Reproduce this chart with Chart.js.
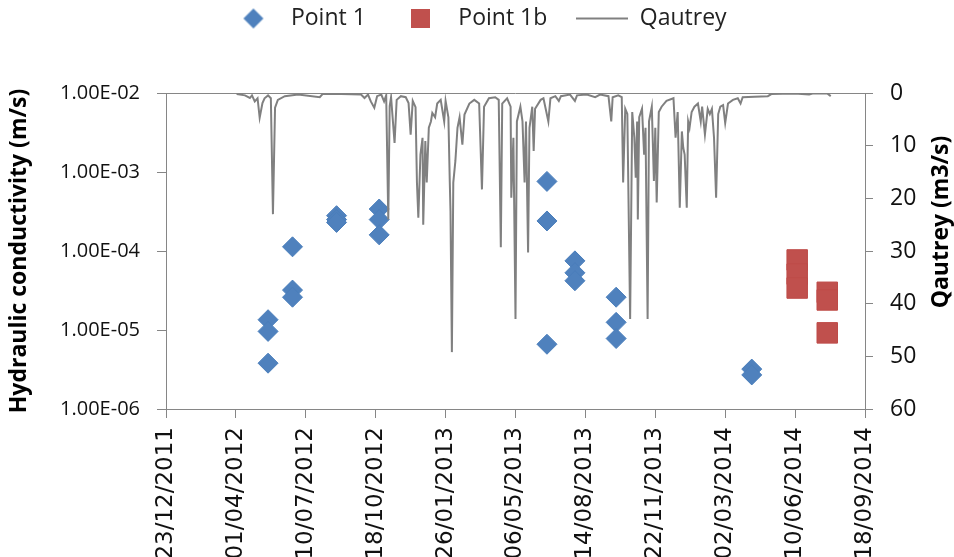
<!DOCTYPE html>
<html>
<head>
<meta charset="utf-8">
<script src="https://cdn.jsdelivr.net/npm/chart.js@4.4.1/dist/chart.umd.min.js"></script>
<style>
  html, body { margin: 0; padding: 0; background: #fff; }
</style>
</head>
<body>
<canvas id="myChart"></canvas>
<script>
// all dates are Excel day serials (40900 = 23/12/2011)
const xTicks = [40900, 41000, 41100, 41200, 41300, 41400, 41500, 41600, 41700, 41800, 41900];
const xTickLabels = ['23/12/2011', '01/04/2012', '10/07/2012', '18/10/2012', '26/01/2013', '06/05/2013',
  '14/08/2013', '22/11/2013', '02/03/2014', '10/06/2014', '18/09/2014'];

const kTicks = [1e-6, 1e-5, 1e-4, 1e-3, 1e-2];
const kTickLabels = ['1.00E-06', '1.00E-05', '1.00E-04', '1.00E-03', '1.00E-02'];
const qTicks = [0, 10, 20, 30, 40, 50, 60];

// Point 1 - hydraulic conductivity (m/s)
const p1Day = [41046, 41046, 41046, 41081, 41081, 41081, 41144, 41144, 41144, 41205, 41205, 41205,
  41445, 41445, 41445, 41485, 41485, 41485, 41544, 41544, 41544, 41738, 41738];
const p1K = [1.35e-5, 9.6e-6, 3.8e-6, 1.13e-4, 3.2e-5, 2.6e-5, 2.8e-4, 2.5e-4, 2.3e-4, 3.4e-4, 2.5e-4, 1.6e-4,
  7.6e-4, 2.4e-4, 6.6e-6, 7.5e-5, 5.3e-5, 4.2e-5, 2.6e-5, 1.25e-5, 7.8e-6, 3.2e-6, 2.7e-6];

// Point 1b
const p1bDay = [41803, 41803, 41803, 41846, 41846, 41846];
const p1bK = [7.7e-5, 5.1e-5, 3.4e-5, 3.0e-5, 2.4e-5, 9.2e-6];

// Qautrey flow (m3/s) (peaks + baseline)
const qDay = [
  41001, 41013, 41020, 41023, 41027, 41031, 41034, 41038, 41041, 41046,
  41050, 41053, 41056, 41060, 41070, 41089, 41120, 41124, 41151, 41179,
  41184, 41189, 41193, 41198, 41202, 41208, 41212, 41215, 41218, 41220,
  41222, 41227, 41230, 41236, 41243, 41247, 41250, 41253, 41257, 41259,
  41261, 41264, 41267, 41268, 41271, 41273, 41276, 41279, 41281, 41285,
  41288, 41293, 41298, 41300, 41304, 41306, 41307, 41309, 41311, 41314,
  41317, 41320, 41324, 41327, 41334, 41341, 41348, 41352, 41355, 41362,
  41371, 41376, 41379, 41381, 41388, 41393, 41394, 41397, 41400, 41402,
  41407, 41410, 41413, 41415, 41418, 41420, 41424, 41426, 41428, 41436,
  41440, 41447, 41450, 41457, 41462, 41465, 41478, 41485, 41488, 41502,
  41514, 41521, 41533, 41537, 41539, 41547, 41552, 41554, 41557, 41560,
  41564, 41567, 41570, 41572, 41574, 41575, 41577, 41581, 41584, 41586,
  41589, 41591, 41595, 41598, 41600, 41602, 41605, 41609, 41616, 41626,
  41629, 41632, 41635, 41638, 41640, 41642, 41645, 41647, 41649, 41652,
  41656, 41661, 41665, 41667, 41671, 41675, 41678, 41681, 41684, 41687,
  41690, 41693, 41697, 41700, 41704, 41711, 41718, 41722, 41725, 41742,
  41761, 41766, 41799, 41820, 41825, 41846, 41851
];
const qFlow = [
  0.2, 0.45, 0.95, 0.45, 1.6, 1.0, 4.7, 1.9, 1.0, 0.45,
  1.0, 23, 2.8, 1.3, 0.6, 0.3, 0.8, 0.2, 0.2, 0.3,
  0.95, 0.3, 1.6, 2.8, 0.6, 0.3, 1.6, 0.45, 24, 2.5,
  0.8, 9.5, 1.3, 0.6, 0.8, 1.9, 7.9, 1.5, 2.7, 17,
  23.7, 11.7, 8.5, 25, 9.1, 17, 6.6, 5.4, 3.8, 4.6,
  2.0, 1.3, 5.4, 1.5, 4.6, 17, 22.4, 49.2, 17, 12.9,
  6.6, 4.6, 9.8, 4.1, 2.0, 1.3, 2.0, 18.3, 2.6, 1.0,
  0.8, 1.3, 29.3, 2.0, 1.0, 2.6, 19.9, 8.5, 42.9, 5.4,
  2.6, 5.4, 17, 5.4, 30.3, 6.6, 2.6, 11, 3.0, 1.3,
  1.0, 5.4, 1.0, 0.6, 1.5, 0.6, 0.3, 1.5, 0.45, 0.3,
  0.8, 0.3, 0.6, 5.4, 0.8, 0.45, 0.8, 17, 3.0, 4.0,
  42.9, 3.6, 8.5, 16.1, 5.4, 24, 4.6, 3.0, 11.7, 6.6,
  42.9, 5.4, 2.6, 16.7, 6.6, 20.8, 3.6, 2.6, 1.5, 1.0,
  8.5, 3.6, 21.8, 7.3, 10.4, 11.7, 21.8, 5.4, 6.6, 3.6,
  2.6, 2.0, 5.4, 2.6, 7.9, 3.0, 4.0, 3.0, 8.5, 19.9,
  4.0, 2.6, 2.3, 5.7, 2.0, 1.3, 1.0, 2.0, 0.8, 0.7,
  0.6, 0.2, 0.1, 0.3, 0.1, 0.1, 0.6
];

const axisGray = '#868686';
const blue = '#4F81BD';
const red = '#C0504D';
const lineGray = '#808080';

const toXY = (xs, ys) => xs.map((x, i) => ({ x: x, y: ys[i] }));

// small canvases used as legend icons (excel-like sizes)
function makeIcon(w, h, draw) {
  const c = document.createElement('canvas');
  c.width = w; c.height = h;
  draw(c.getContext('2d'));
  return c;
}
const legendIcons = [
  makeIcon(22, 22, g => {
    g.fillStyle = blue;
    g.beginPath(); g.moveTo(11, 1); g.lineTo(21, 11); g.lineTo(11, 21); g.lineTo(1, 11); g.closePath(); g.fill();
  }),
  makeIcon(19, 19, g => { g.fillStyle = red; g.fillRect(0, 0, 19, 19); }),
  makeIcon(52, 4, g => { g.fillStyle = lineGray; g.fillRect(0, 1, 52, 2); })
];

// right axis title reads bottom-to-top, chart.js would draw it the other way
const rightTitle = {
  id: 'rightTitle',
  afterDraw(chart) {
    const c = chart.ctx;
    c.save();
    c.translate(941, 222);
    c.rotate(-Math.PI / 2);
    c.font = 'bold 23px "Open Sans"';
    c.fillStyle = '#000';
    c.textAlign = 'center';
    c.textBaseline = 'middle';
    c.fillText('Qautrey (m3/s)', 0, 0);
    c.restore();
  }
};

let ctx = document.getElementById('myChart').getContext('2d');
ctx.canvas.width = 954;
ctx.canvas.height = 557;

let myChart = new Chart(ctx, {
  type: 'scatter',
  data: {
    datasets: [{
      label: 'Point 1',
      data: toXY(p1Day, p1K),
      yAxisID: 'y',
      pointStyle: 'rectRot',
      pointRadius: 10,
      backgroundColor: blue,
      borderColor: '#4A7EBB',
      borderWidth: 1,
      order: 2
    }, {
      label: 'Point 1b',
      data: toXY(p1bDay, p1bK),
      yAxisID: 'y',
      pointStyle: 'rect',
      pointRadius: 14.5,
      backgroundColor: red,
      borderColor: '#BE4B48',
      borderWidth: 1,
      order: 2
    }, {
      label: 'Qautrey',
      data: toXY(qDay, qFlow),
      yAxisID: 'y1',
      showLine: true,
      pointRadius: 0,
      borderColor: lineGray,
      backgroundColor: lineGray,
      borderWidth: 2,
      tension: 0,
      order: 1
    }]
  },
  plugins: [rightTitle],
  options: {
    responsive: false,
    animation: false,
    events: [],
    layout: {
      padding: { top: -22, left: 0, right: 0, bottom: 0 }
    },
    plugins: {
      tooltip: false,
      // empty title used only as a spacer between legend and plot
      title: {
        display: true,
        text: ' ',
        weight: 100,
        font: { size: 10 },
        padding: { top: 41, bottom: 0 }
      },
      legend: {
        position: 'top',
        weight: 1000,
        labels: {
          usePointStyle: true,
          pointStyleWidth: 52,
          padding: 29,
          color: '#222',
          font: { family: 'Open Sans', size: 23 },
          generateLabels(chart) {
            const items = Chart.defaults.plugins.legend.labels.generateLabels(chart);
            items.forEach(it => { it.pointStyle = legendIcons[it.datasetIndex]; });
            return items;
          },
          sort: (a, b) => a.datasetIndex - b.datasetIndex
        }
      }
    },
    scales: {
      x: {
        type: 'linear',
        min: 40900,
        max: 41900,
        afterBuildTicks: s => { s.ticks = xTicks.map(v => ({ value: v })); },
        afterFit: s => { s.height = 148; },
        border: { color: axisGray, width: 1 },
        grid: { drawOnChartArea: false, tickLength: 9, tickColor: axisGray },
        ticks: {
          autoSkip: false,
          minRotation: 90,
          maxRotation: 90,
          padding: 9,
          color: '#111',
          font: { family: 'DejaVu Sans', size: 23 },
          callback: (v, i) => xTickLabels[i]
        }
      },
      y: {
        type: 'logarithmic',
        position: 'left',
        min: 1e-6,
        max: 1e-2,
        afterBuildTicks: s => { s.ticks = kTicks.map(v => ({ value: v })); },
        afterFit: s => { s.width = 166; },
        border: { color: axisGray, width: 1 },
        grid: { drawOnChartArea: false, tickLength: 9, tickColor: axisGray },
        ticks: {
          padding: 17,
          color: '#111',
          font: { family: 'Open Sans', size: 20 },
          callback: (v, i) => kTickLabels[i]
        },
        title: {
          display: true,
          text: 'Hydraulic conductivity (m/s)',
          color: '#000',
          padding: { top: 6, bottom: 0 },
          font: { family: 'Open Sans', size: 23, weight: 'bold' }
        }
      },
      y1: {
        type: 'linear',
        position: 'right',
        reverse: true,
        min: 0,
        max: 60,
        afterBuildTicks: s => { s.ticks = qTicks.map(v => ({ value: v })); },
        afterFit: s => { s.width = 89; },
        border: { color: axisGray, width: 1 },
        grid: {
          drawOnChartArea: true,
          tickLength: 8,
          tickColor: axisGray,
          // only the 0 line, which gives the top frame of the plot
          color: c => (c.tick && c.tick.value === 0) ? axisGray : 'rgba(0,0,0,0)'
        },
        ticks: {
          padding: 17,
          color: '#111',
          font: { family: 'Open Sans', size: 23 }
        }
      }
    }
  }
});
</script>
</body>
</html>
